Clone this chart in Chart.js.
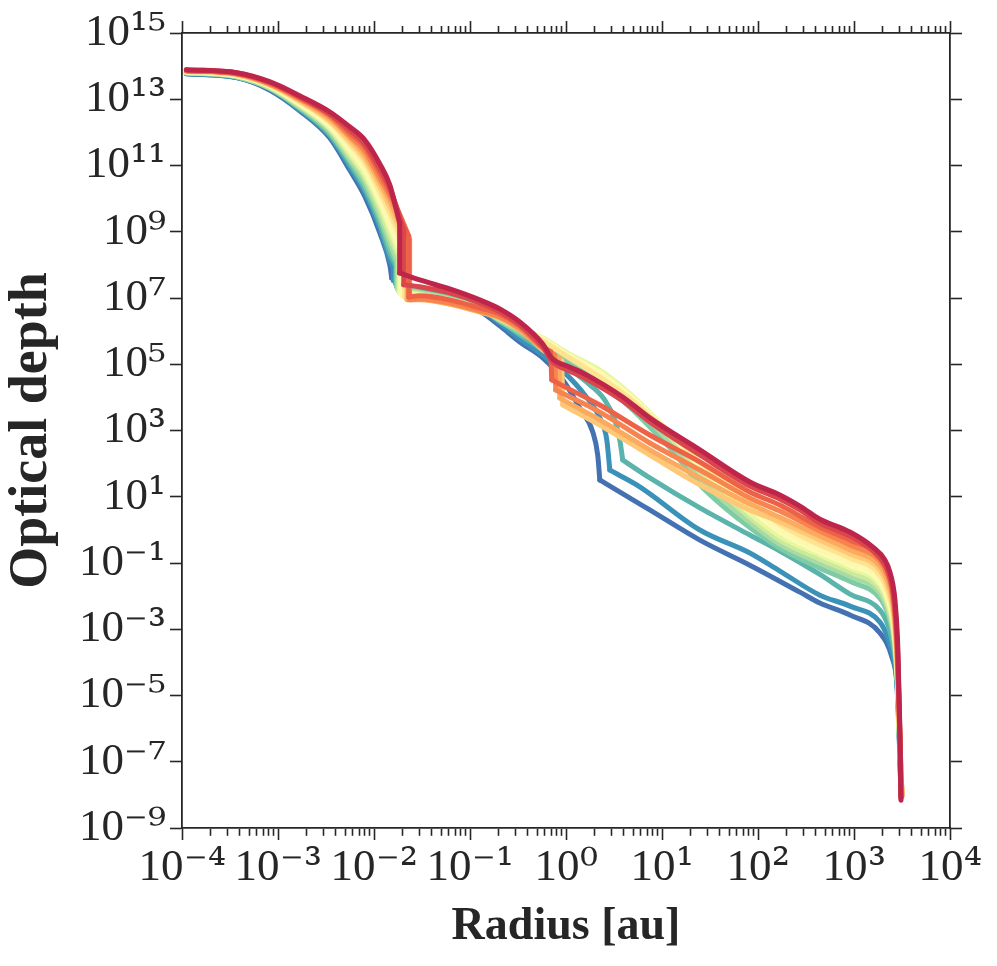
<!DOCTYPE html>
<html>
<head>
<meta charset="utf-8">
<script src="https://cdn.jsdelivr.net/npm/chart.js@4/dist/chart.umd.min.js"></script>
<style>
  @font-face {
    font-family: 'TickSup';
    src: local('DejaVu Serif'), local('DejaVuSerif');
    unicode-range: U+00B2-00B3, U+00B9, U+2070-209F;
  }
  html, body { margin: 0; padding: 0; background: #ffffff; }
  #wrap { width: 997px; height: 966px; position: relative; }
</style>
</head>
<body>
<div id="wrap"><canvas id="chart"></canvas></div>
<script>
// ---------------- tick labels & titles ----------------
const xDecades = [1e-4, 1e-3, 1e-2, 1e-1, 1e0, 1e1, 1e2, 1e3, 1e4];
const xTickLabels = ['10⁻⁴', '10⁻³', '10⁻²', '10⁻¹', '10⁰', '10¹', '10²', '10³', '10⁴'];
const yDecades = [1e-9, 1e-7, 1e-5, 1e-3, 1e-1, 1e1, 1e3, 1e5, 1e7, 1e9, 1e11, 1e13, 1e15];
const yTickLabels = ['10⁻⁹', '10⁻⁷', '10⁻⁵', '10⁻³', '10⁻¹', '10¹', '10³', '10⁵', '10⁷', '10⁹', '10¹¹', '10¹³', '10¹⁵'];
const xTitle = 'Radius [au]';
const yTitle = 'Optical depth';

// ---------------- radius pieces shared by the curves (au) ----------------
const radInner = [1.11e-4, 3.70e-4, 8.17e-4, 1.68e-3, 3.45e-3, 5.57e-3, 7.98e-3, 1.15e-2, 1.46e-2];
const radMid = [2.99e-2, 6.14e-2, 0.126, 0.204, 0.330, 0.573];
const radOuter = [1.09, 2.25, 4.96, 7.46, 12.1, 24.8, 64.7, 169, 441, 907, 1862, 2258, 2544, 2735, 2868, 3010, 3158];

// ---------------- series (radius, optical depth) ----------------
const rad00 = [...radInner, 1.53e-2, ...radMid, 0.925, 1.39, 1.90, 2.14, 2.25, 2.60, 7.46, 24.8, 82.2, 273, 441, 907, 1862, 2484, 2800, 2938, 3010, 3083];
const tau00 = [5.9e13, 4.5e13, 1.9e13, 4.5e12, 6.9e11, 7.4e10, 1.2e10, 9.3e8, 1.0e8, 4.0e7, 1.88e7, 1.0e7, 4.1e6, 1.44e6, 4.7e5, 1.55e5, 3.4e4, 4.8e3, 9.0e2, 182, 32, 25, 4.0, 0.49, 0.086, 0.0132, 0.0062, 0.0027, 7.7e-4, 1.44e-4, 2.4e-5, 1.8e-6, 1.11e-7, 9.7e-9];

const rad01 = [...radInner, 1.60e-2, 1.60e-2, ...radMid, 0.970, 1.57, 2.25, 2.66, 2.86, 3.30, 5.87, 24.8, 82.2, 169, 441, 907, 1862, 2258, 2544, 2735, 2868, 3010, 3083];
const tau01 = [5.9e13, 4.5e13, 2.1e13, 4.8e12, 7.9e11, 9.1e10, 1.6e10, 1.31e9, 1.42e8, 8.1e7, 3.3e7, 1.88e7, 1.08e7, 4.7e6, 1.77e6, 5.8e5, 1.91e5, 5.5e4, 1.18e4, 2.4e3, 5.2e2, 64, 51, 20, 0.99, 0.20, 0.057, 0.0107, 0.0050, 0.00164, 5.4e-4, 1.66e-4, 5.1e-5, 5.1e-6, 1.37e-7, 1.2e-8];

const rad02 = [...radInner, 1.68e-2, 1.68e-2, ...radMid, 0.970, 1.77, 2.53, 3.22, 3.63, 3.90, 4.51, 7.46, 24.8, 82.2, 169, 441, 907, 1862, 2258, 2544, 2735, 2868, 3010, 3083];
const tau02 = [6.3e13, 4.8e13, 2.1e13, 5.2e12, 8.5e11, 1.12e11, 2.0e10, 1.73e9, 2.2e8, 9.3e7, 2.7e7, 1.76e7, 1.08e7, 5.4e6, 2.2e6, 7.7e5, 2.7e5, 8.9e4, 2.4e4, 8.4e3, 2.1e3, 5.2e2, 1.29e2, 97, 37, 4.6, 0.70, 0.23, 0.045, 0.0115, 0.0038, 0.00133, 3.3e-4, 8.3e-5, 7.2e-6, 1.57e-7, 1.2e-8];

const rad03 = [...radInner, 1.72e-2, 1.72e-2, ...radMid, ...radOuter];
const tau03 = [6.3e13, 4.8e13, 2.2e13, 5.5e12, 9.7e11, 1.39e11, 2.6e10, 2.5e9, 3.3e8, 1.07e8, 2.2e7, 1.53e7, 1.0e7, 5.0e6, 2.0e6, 8.8e5, 3.6e5, 1.09e5, 2.9e4, 4.2e3, 1.28e3, 3.0e2, 23, 2.0, 0.28, 0.070, 0.028, 0.0087, 0.0029, 7.1e-4, 1.17e-4, 9.5e-6, 1.94e-7, 1.2e-8];

const rad04 = [...radInner, 1.76e-2, 1.76e-2, ...radMid, ...radOuter];
const tau04 = [6.3e13, 4.8e13, 2.2e13, 5.9e12, 1.12e12, 1.6e11, 3.5e10, 3.2e9, 5.0e8, 1.23e8, 1.88e7, 1.43e7, 9.4e6, 5.0e6, 2.2e6, 1.01e6, 4.4e5, 1.45e5, 4.1e4, 6.3e3, 1.94e3, 4.5e2, 37, 3.0, 0.37, 0.100, 0.040, 0.0123, 0.0038, 9.4e-4, 1.34e-4, 1.10e-5, 1.94e-7, 1.2e-8];

const rad05 = [...radInner, 1.81e-2, 1.81e-2, ...radMid, ...radOuter];
const tau05 = [6.3e13, 5.1e13, 2.4e13, 6.4e12, 1.29e12, 2.0e11, 4.6e10, 4.6e9, 7.5e8, 1.63e8, 1.64e7, 1.33e7, 8.8e6, 4.7e6, 2.3e6, 1.16e6, 5.4e5, 1.78e5, 5.5e4, 9.0e3, 2.7e3, 6.4e2, 56, 4.3, 0.49, 0.131, 0.053, 0.0163, 0.0050, 0.00124, 1.66e-4, 1.26e-5, 2.2e-7, 1.12e-8];

const rad06 = [...radInner, 1.85e-2, 1.85e-2, ...radMid, ...radOuter];
const tau06 = [6.8e13, 5.1e13, 2.4e13, 6.8e12, 1.38e12, 2.4e11, 5.6e10, 6.5e9, 1.14e9, 2.0e8, 1.43e7, 1.24e7, 8.8e6, 4.7e6, 2.5e6, 1.25e6, 6.2e5, 2.0e5, 6.7e4, 1.1e4, 3.4e3, 8.4e2, 74, 5.6, 0.65, 0.173, 0.070, 0.022, 0.0066, 0.00164, 2.0e-4, 1.45e-5, 2.2e-7, 1.12e-8];

const rad07 = [...radInner, 1.90e-2, 1.90e-2, ...radMid, ...radOuter];
const tau07 = [6.8e13, 5.1e13, 2.6e13, 7.3e12, 1.58e12, 3.0e11, 7.4e10, 8.6e9, 1.62e9, 2.5e8, 1.33e7, 1.16e7, 8.2e6, 4.7e6, 2.7e6, 1.25e6, 5.8e5, 1.78e5, 5.5e4, 9.6e3, 3.2e3, 8.4e2, 85, 8.0, 0.86, 0.21, 0.086, 0.027, 0.0081, 0.0020, 2.3e-4, 1.66e-5, 2.6e-7, 1.04e-8];

const rad08 = [...radInner, 1.99e-2, 1.99e-2, ...radMid, ...radOuter];
const tau08 = [6.8e13, 5.5e13, 2.6e13, 7.8e12, 1.8e12, 3.7e11, 9.8e10, 1.2e10, 2.5e9, 2.8e8, 1.16e7, 1.08e7, 7.6e6, 4.4e6, 2.7e6, 1.25e6, 5.4e5, 1.66e5, 4.8e4, 8.4e3, 2.9e3, 8.4e2, 97, 10.5, 1.13, 0.26, 0.107, 0.033, 0.0100, 0.0025, 2.7e-4, 1.9e-5, 2.6e-7, 1.04e-8];

const rad09 = [...radInner, 2.09e-2, 2.09e-2, ...radMid, ...radOuter];
const tau09 = [6.8e13, 5.5e13, 2.7e13, 8.4e12, 2.1e12, 4.5e11, 1.29e11, 1.6e10, 3.7e9, 3.3e8, 1.08e7, 1.0e7, 7.1e6, 4.1e6, 2.7e6, 1.25e6, 5.1e5, 1.55e5, 4.1e4, 7.8e3, 2.7e3, 9.0e2, 1.12e2, 13.9, 1.50, 0.35, 0.141, 0.043, 0.0132, 0.0033, 3.3e-4, 2.4e-5, 2.9e-7, 1.04e-8];

const rad10 = [...radInner, 2.19e-2, 2.19e-2, ...radMid, 0.903, 0.925, 1.07, 2.25, 7.46, 24.8, 82.2, 169, 441, 907, 1862, 2258, 2544, 2735, 2868, 3010, 3158];
const tau10 = [7.3e13, 5.5e13, 2.7e13, 9.0e12, 2.2e12, 5.6e11, 1.6e11, 2.3e10, 5.6e9, 4.0e8, 9.4e6, 9.4e6, 6.6e6, 3.8e6, 2.5e6, 1.16e6, 2.7e5, 1.26e5, 5.9e3, 4.7e3, 1.47e3, 182, 23, 4.0, 1.72, 0.49, 0.186, 0.061, 0.019, 0.0044, 4.7e-4, 2.9e-5, 3.2e-7, 9.7e-9];

const rad11 = [...radInner, 2.24e-2, 2.24e-2, ...radMid, 0.840, 0.861, 0.994, 2.25, 7.46, 24.8, 82.2, 169, 441, 907, 1862, 2258, 2544, 2735, 2868, 3010, 3158];
const tau11 = [7.3e13, 5.9e13, 2.9e13, 9.7e12, 2.6e12, 6.9e11, 2.1e11, 3.2e10, 8.6e9, 4.6e8, 8.8e6, 8.8e6, 6.6e6, 3.8e6, 2.5e6, 1.09e6, 2.9e5, 1.55e5, 9.6e3, 7.6e3, 2.1e3, 2.6e2, 37, 6.0, 2.4, 0.65, 0.25, 0.081, 0.027, 0.0062, 6.7e-4, 4.1e-5, 3.9e-7, 9.7e-9];

const rad12 = [...radInner, 2.35e-2, 2.35e-2, ...radMid, 0.763, 0.782, 0.903, 2.25, 7.46, 24.8, 82.2, 169, 441, 907, 1862, 2258, 2544, 2735, 2868, 3010, 3158];
const tau12 = [7.3e13, 5.9e13, 2.9e13, 1.04e13, 3.0e12, 7.9e11, 2.8e11, 4.2e10, 1.2e10, 5.7e8, 8.8e6, 9.4e6, 7.1e6, 4.1e6, 2.7e6, 1.25e6, 3.1e5, 1.91e5, 1.67e4, 1.36e4, 3.6e3, 4.2e2, 64, 9.1, 3.7, 0.92, 0.35, 0.114, 0.040, 0.0094, 9.4e-4, 5.8e-5, 4.5e-7, 9.1e-9];

const rad13 = [...radInner, 2.30e-2, 2.30e-2, ...radMid, 0.693, 0.710, 0.820, 2.25, 7.46, 24.8, 82.2, 169, 441, 907, 1862, 2258, 2544, 2735, 2868, 3010, 3083];
const tau13 = [7.3e13, 5.9e13, 3.2e13, 1.11e13, 3.4e12, 9.7e11, 3.7e11, 6.0e10, 1.6e10, 7.5e8, 1.08e7, 1.16e7, 8.8e6, 5.0e6, 3.3e6, 1.44e6, 3.3e5, 2.4e5, 3.4e4, 2.7e4, 5.9e3, 7.3e2, 1.12e2, 13.9, 5.6, 1.22, 0.49, 0.162, 0.061, 0.0152, 0.00133, 8.3e-5, 4.5e-7, 8.5e-9];

const rad14 = [...radInner, 2.04e-2, 2.04e-2, ...radMid, 0.728, 1.09, 1.49, 3.90, 7.46, 24.8, 82.2, 169, 273, 441, 907, 1575, 2100, 2368, 2544, 2735, 2868, 3010, 3083];
const tau14 = [7.8e13, 6.3e13, 3.2e13, 1.19e13, 3.6e12, 1.2e12, 4.5e11, 7.9e10, 2.1e10, 1.14e9, 2.5e7, 2.2e7, 1.43e7, 7.1e6, 3.8e6, 1.54e6, 3.3e5, 1.17e5, 6.3e4, 4.1e4, 7.8e3, 1.81e3, 182, 21, 8.5, 4.0, 1.61, 0.65, 0.23, 0.086, 0.035, 0.0132, 0.0019, 1.17e-4, 6.3e-7, 7.9e-9];

const rad15 = [...radInner, 1.85e-2, 1.85e-2, ...radMid, 0.710, 1.09, 1.49, 3.90, 7.46, 24.8, 82.2, 169, 273, 441, 907, 1575, 2100, 2368, 2544, 2671, 2868, 3010, 3083];
const tau15 = [7.8e13, 6.3e13, 3.4e13, 1.28e13, 4.2e12, 1.48e12, 6.0e11, 1.12e11, 2.6e10, 1.86e9, 5.7e7, 3.5e7, 1.88e7, 8.8e6, 4.7e6, 1.9e6, 4.1e5, 1.55e5, 8.3e4, 5.5e4, 1.03e4, 2.4e3, 2.6e2, 28, 11.3, 5.2, 2.1, 0.86, 0.30, 0.123, 0.053, 0.022, 0.0076, 2.3e-4, 7.3e-7, 6.9e-9];

// Spectral_r colours, first = blue, last = crimson
const lineColors = ['#4471b2', '#3b92b9', '#5ab4ab', '#7ecba5', '#a7dba4', '#caea9e', '#e9f69d', '#f8fcb4',
                    '#fff6b0', '#fee491', '#fec877', '#fcaa5f', '#f7844e', '#ed6246', '#da464d', '#be254a'];

// ---------------- build chart ----------------
const radii = [rad00, rad01, rad02, rad03, rad04, rad05, rad06, rad07, rad08, rad09, rad10, rad11, rad12, rad13, rad14, rad15];
const taus  = [tau00, tau01, tau02, tau03, tau04, tau05, tau06, tau07, tau08, tau09, tau10, tau11, tau12, tau13, tau14, tau15];

function pairUp(r, t) {
  const n = Math.min(r.length, t.length);
  const out = [];
  for (let k = 0; k < n; k++) out.push({ x: r[k], y: t[k] });
  return out;
}

// split each curve at its sharp corners (vertical drops / abrupt turns) so the
// smooth interpolation keeps those corners crisp
const DEC_X = 768 / 8, DEC_Y = 795 / 24;
function toPx(p) { return [Math.log10(p.x) * DEC_X, -Math.log10(p.y) * DEC_Y]; }
function splitPieces(pts) {
  const pieces = [];
  let cur = [pts[0]];
  for (let k = 1; k < pts.length; k++) {
    cur.push(pts[k]);
    if (k < pts.length - 1) {
      const a = toPx(pts[k - 1]), b = toPx(pts[k]), c = toPx(pts[k + 1]);
      const d1x = b[0] - a[0], d1y = b[1] - a[1], d2x = c[0] - b[0], d2y = c[1] - b[1];
      const vertical = Math.abs(d1x) < 1e-9 || Math.abs(d2x) < 1e-9;
      const ang = Math.abs(Math.atan2(d2y, d2x) - Math.atan2(d1y, d1x)) * 180 / Math.PI;
      if (vertical || ang > 40) { pieces.push(cur); cur = [pts[k]]; }
    }
  }
  pieces.push(cur);
  return pieces;
}

const datasets = [];
lineColors.forEach((c, i) => {
  splitPieces(pairUp(radii[i], taus[i])).forEach(piece => {
    datasets.push({
      data: piece,
      borderColor: c,
      backgroundColor: c,
      borderWidth: 5,
      pointRadius: 0,
      pointHoverRadius: 0,
      showLine: true,
      fill: false,
      cubicInterpolationMode: 'monotone',
      borderCapStyle: 'round',
      borderJoinStyle: 'round',
      order: lineColors.length - 1 - i
    });
  });
});

const INK = '#262626';
const FONT = "'TickSup', 'Liberation Serif', 'DejaVu Serif', serif";
const TITLE_FONT = "'Liberation Serif', 'DejaVu Serif', serif";

const xTickObjs = [];
xDecades.forEach((d, k) => {
  xTickObjs.push({ value: d, major: true });
  if (k < xDecades.length - 1) {
    for (let m = 2; m <= 9; m++) xTickObjs.push({ value: d * m, major: false });
  }
});
const yTickObjs = yDecades.map(d => ({ value: d, major: true }));

function findLabel(value, decs, labels) {
  for (let k = 0; k < decs.length; k++) {
    if (Math.abs(Math.log10(value) - Math.log10(decs[k])) < 1e-6) return labels[k];
  }
  return '';
}

const tickDashBottom = (ctx) => (ctx.tick && ctx.tick.major === false) ? [7, 100] : [];
const tickDashTop = (ctx) => (ctx.tick && ctx.tick.major === false) ? [0, 5, 7, 100] : [];

const gridCommon = {
  display: true,
  drawOnChartArea: false,
  drawTicks: true,
  tickLength: 12,
  tickWidth: 1.6,
  tickColor: INK
};
const borderCommon = { display: true, color: INK, width: 1.8 };

const chart = new Chart(document.getElementById('chart'), {
  type: 'scatter',
  data: { datasets },
  options: {
    animation: false,
    responsive: true,
    maintainAspectRatio: false,
    layout: { padding: 0 },
    plugins: { legend: { display: false }, tooltip: { enabled: false } },
    scales: {
      x: {
        type: 'logarithmic', position: 'bottom', min: 1e-4, max: 1e4,
        afterBuildTicks: (s) => { s.ticks = xTickObjs.map(t => ({ ...t })); },
        afterFit: (s) => { s.height = 138; },
        ticks: {
          autoSkip: false, maxRotation: 0, minRotation: 0, padding: 1,
          color: INK, font: { family: FONT, size: 45 },
          callback: (v) => findLabel(v, xDecades, xTickLabels)
        },
        grid: { ...gridCommon, tickBorderDash: tickDashBottom },
        border: borderCommon,
        title: { display: true, text: xTitle, color: INK, font: { family: TITLE_FONT, size: 46, weight: 'bold' }, padding: { top: 0, bottom: 11 } }
      },
      x2: {
        type: 'logarithmic', position: 'top', min: 1e-4, max: 1e4,
        afterBuildTicks: (s) => { s.ticks = xTickObjs.map(t => ({ ...t })); },
        afterFit: (s) => { s.height = 33; },
        ticks: { display: false, autoSkip: false },
        grid: { ...gridCommon, tickBorderDash: tickDashTop },
        border: borderCommon
      },
      y: {
        type: 'logarithmic', position: 'left', min: 1e-9, max: 1e15,
        afterBuildTicks: (s) => { s.ticks = yTickObjs.map(t => ({ ...t })); },
        afterFit: (s) => { s.width = 182; },
        ticks: {
          autoSkip: false, padding: 4, color: INK, font: { family: FONT, size: 45 },
          callback: (v) => findLabel(v, yDecades, yTickLabels)
        },
        grid: { ...gridCommon },
        border: borderCommon,
        title: { display: true, text: yTitle, color: INK, font: { family: TITLE_FONT, size: 54, weight: 'bold' }, padding: { top: 0, bottom: 0 } }
      },
      y2: {
        type: 'logarithmic', position: 'right', min: 1e-9, max: 1e15,
        afterBuildTicks: (s) => { s.ticks = yTickObjs.map(t => ({ ...t })); },
        afterFit: (s) => { s.width = 47; },
        ticks: { display: false, autoSkip: false },
        grid: { ...gridCommon },
        border: borderCommon
      }
    }
  }
});

// re-render once the superscript face is available
if (document.fonts && document.fonts.load) {
  document.fonts.load('45px TickSup', '⁰¹²³⁴⁵⁶⁷⁸⁹⁻').then(() => chart.update()).catch(() => {});
}
</script>
</body>
</html>
